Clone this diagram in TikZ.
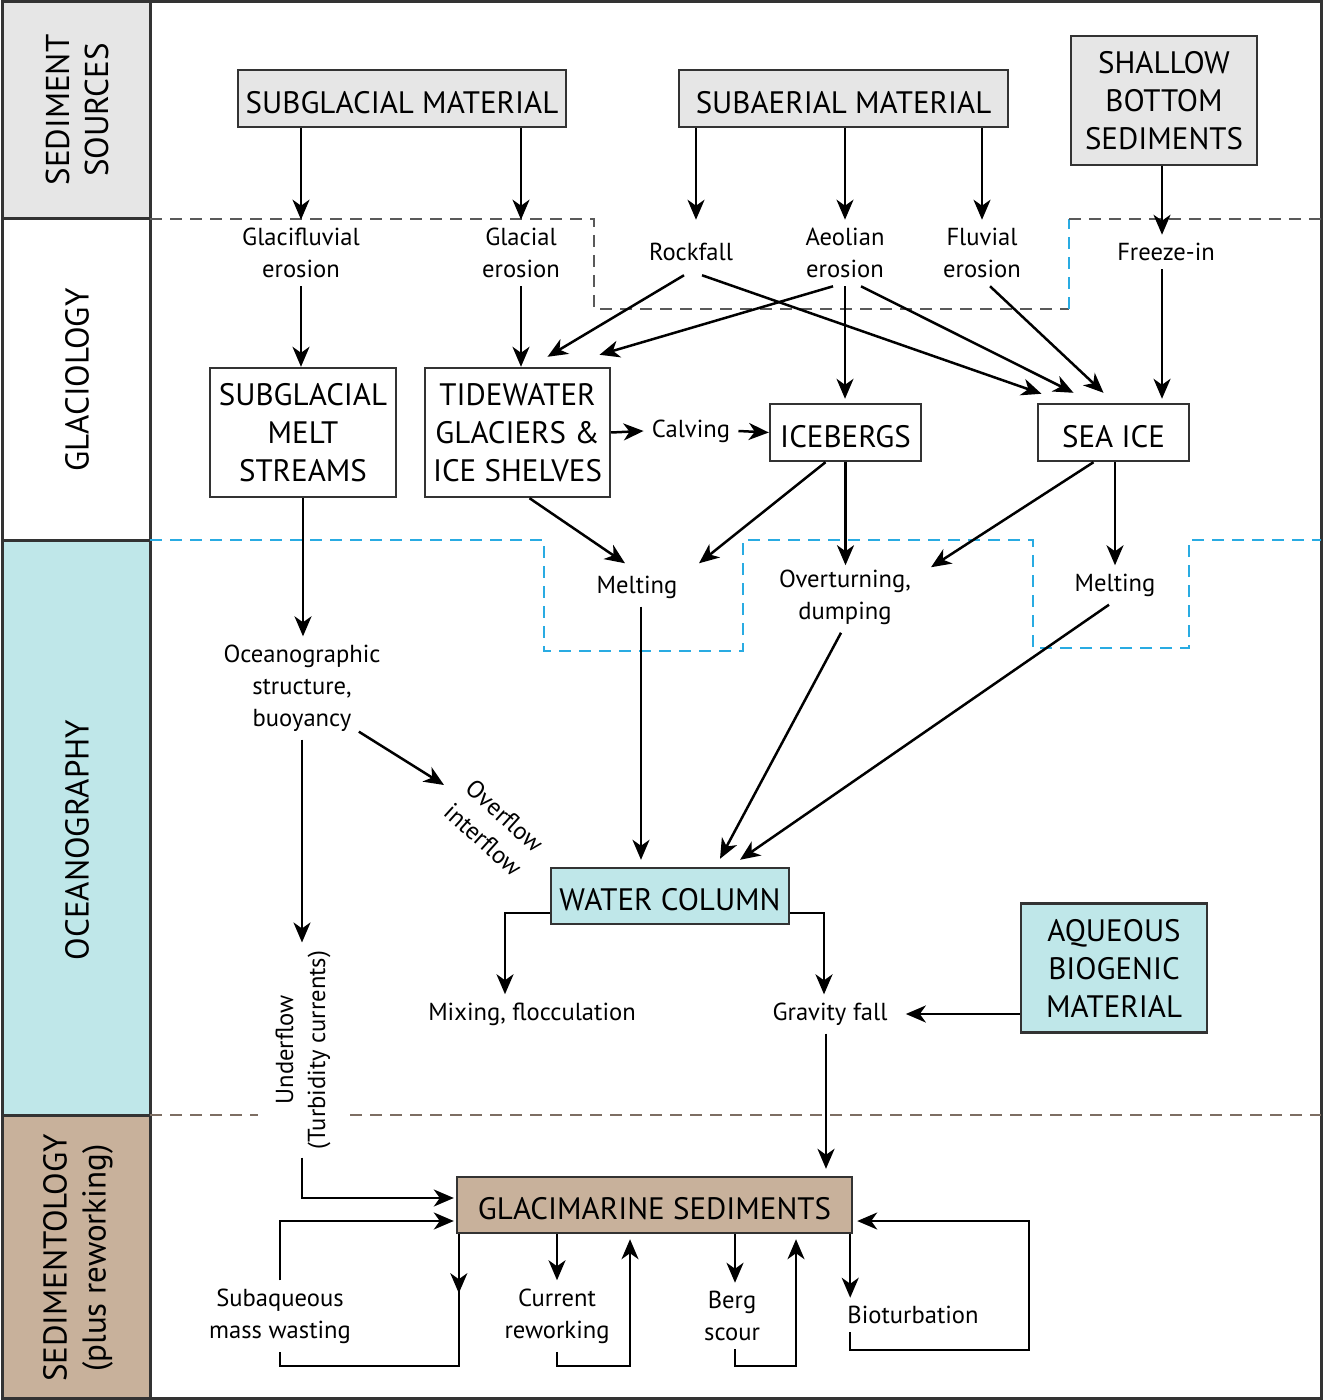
\documentclass[tikz,border=0pt]{standalone}
\usepackage{fontspec}
\setmainfont{PT Sans}
\usetikzlibrary{arrows.meta,calc}
\definecolor{gfill}{HTML}{E6E6E6}
\definecolor{cfill}{HTML}{BFE7E9}
\definecolor{tfill}{HTML}{C8B19B}
\definecolor{frm}{HTML}{333333}
\definecolor{gdash}{HTML}{595959}
\definecolor{bdash}{HTML}{29ABE2}
\definecolor{tdash}{HTML}{7D6E63}
\newcommand\boxf{\fontsize{15.5}{19}\selectfont}
\newcommand\lblf{\fontsize{12.3}{16}\selectfont}
\newcommand\sidef{\fontsize{16.5}{19.5}\selectfont}
\begin{document}
\begin{tikzpicture}[x=0.5pt,y=-0.5pt,
  mybox/.style={draw=frm,line width=1.2pt,inner sep=0pt,align=center,font=\boxf},
  onel/.style={text height=14.8pt,text depth=0pt},
  lbl/.style={inner sep=4pt,align=center,font=\lblf},
  side/.style={rotate=90,align=center,font=\sidef},
  ln/.style={line width=1.25pt,black},
  arr/.style={ln,-{Stealth[length=10pt,width=8.5pt,inset=3pt]}},
  dsh/.style={line width=1.3pt,dash pattern=on 6pt off 4pt}]
\useasboundingbox (0,0) rectangle (1323,1400);
% side bands
\fill[gfill] (2,2) rectangle (150,219);
\fill[cfill] (2,540) rectangle (150,1115);
\fill[tfill] (2,1115) rectangle (150,1398);
\draw[frm,line width=1.5pt] (2,219) -- (150,219) (2,540) -- (150,540) (2,1115) -- (150,1115);
\draw[frm,line width=1.5pt] (150,2) -- (150,1398);
\draw[frm,line width=1.5pt] (2,2) rectangle (1321,1398);
\node[side] (s1) at (77,110) {SEDIMENT\\SOURCES};
\node[side] (s2) at (77,380) {GLACIOLOGY};
\node[side] (s3) at (77,840) {OCEANOGRAPHY};
\node[side] (s4) at (78,1258) {SEDIMENTOLOGY\\(plus reworking)};
% dashed boundaries
\draw[dsh,gdash] (150,219) -- (594,219) -- (594,309) -- (1069,309);
\draw[dsh,bdash] (1069,309) -- (1069,219);
\draw[dsh,gdash] (1069,219) -- (1321,219);
\draw[dsh,bdash] (150,540) -- (544,540) -- (544,651) -- (743,651) -- (743,540) -- (1033,540) -- (1033,648) -- (1189,648) -- (1189,540) -- (1321,540);
\draw[dsh,tdash] (150,1115) -- (1321,1115);
% boxes
\node[mybox,onel,fill=gfill,minimum width=164pt,minimum height=28.5pt] (sgm) at (402,98.5) {SUBGLACIAL MATERIAL};
\node[mybox,onel,fill=gfill,minimum width=164.5pt,minimum height=28.5pt] (sam) at (843.5,98.5) {SUBAERIAL MATERIAL};
\node[mybox,fill=gfill,minimum width=93pt,minimum height=64.5pt] (sbs) at (1164,100.5) {SHALLOW\\BOTTOM\\SEDIMENTS};
\node[mybox,fill=white,minimum width=93pt,minimum height=64.5pt] (sms) at (303,432.5) {SUBGLACIAL\\MELT\\STREAMS};
\node[mybox,fill=white,minimum width=92.5pt,minimum height=64.5pt] (tgi) at (517.5,432.5) {TIDEWATER\\GLACIERS \&\\ICE SHELVES};
\node[mybox,onel,fill=white,minimum width=75.5pt,minimum height=28.5pt] (ice) at (845.5,432.5) {ICEBERGS};
\node[mybox,onel,fill=white,minimum width=75.5pt,minimum height=28.5pt] (sea) at (1113.5,432.5) {SEA ICE};
\node[mybox,onel,fill=cfill,minimum width=119pt,minimum height=28pt] (wc) at (670,896) {WATER COLUMN};
\node[mybox,fill=cfill,minimum width=93pt,minimum height=64.5pt] (abm) at (1114,968) {AQUEOUS\\BIOGENIC\\MATERIAL};
\node[mybox,onel,fill=tfill,minimum width=197.5pt,minimum height=28pt] (gms) at (654.5,1205) {GLACIMARINE SEDIMENTS};
% labels
\node[lbl] (gfe) at (301,253) {Glacifluvial\\erosion};
\node[lbl] (gle) at (521,253) {Glacial\\erosion};
\node[lbl] (rock) at (696,252) {\hspace*{-5pt}Rockfall};
\node[lbl] (aeo) at (845,253) {Aeolian\\erosion};
\node[lbl] (flu) at (982,253) {Fluvial\\erosion};
\node[lbl] (frz) at (1162,252) {\hspace*{4pt}Freeze-in};
\node[lbl] (calv) at (691,431) {Calving};
\node[lbl] (melt1) at (641,587) {\hspace*{-4pt}Melting};
\node[lbl] (ovt) at (845,597) {Overturning,\\dumping};
\node[lbl] (melt2) at (1115,585) {Melting};
\node[lbl] (ocs) at (302,688) {Oceanographic\\structure,\\buoyancy};
\node[lbl,rotate=-42] (ovf) at (494,828) {Overflow\\interflow};
\node[lbl,rotate=90,fill=white,inner xsep=4pt,inner ysep=9pt] (und) at (303,1050) {Underflow\\(Turbidity currents)};
\node[lbl] (mix) at (532,1014) {Mixing, flocculation};
\node[lbl] (grav) at (826,1014) {\hspace*{4pt}Gravity fall};
\node[lbl] (sub) at (280,1316) {Subaqueous\\mass wasting};
\node[lbl] (cur) at (557,1316) {Current\\reworking};
\node[lbl] (berg) at (735,1316) {\hspace*{-3pt}Berg\\\hspace*{-3pt}scour};
\node[lbl] (bio) at (913,1315) {Bioturbation};
\coordinate (bot) at (0,1366);
\coordinate (bbot) at (0,1350);
\coordinate (bx) at ([xshift=-1.5pt]gms.south east);
\coordinate (lx) at ([xshift=1.5pt]gms.south west);
% arrows: sources to processes
\draw[arr] (sgm.south -| gfe.north) -- (gfe.north);
\draw[arr] (sgm.south -| gle.north) -- (gle.north);
\draw[arr] (sam.south -| rock.north) -- ([yshift=7.5pt]rock.north);
\draw[arr] (sam.south -| aeo.north) -- (aeo.north);
\draw[arr] (sam.south -| flu.north) -- (flu.north);
\draw[arr] (sbs.south -| frz.north) -- (frz.north);
% processes to glaciology boxes
\draw[arr] (gfe.south) -- (sms.north -| gfe.south);
\draw[arr] (gle.south) -- (tgi.north -| gle.south);
\draw[arr] ([xshift=-6pt,yshift=-3pt]rock.south) -- ([xshift=15pt,yshift=5pt]tgi.north);
\draw[arr] ([xshift=-6pt]aeo.south) -- ([xshift=41pt,yshift=6pt]tgi.north);
\draw[arr] ([xshift=3pt,yshift=-3pt]rock.south) -- ([xshift=-36pt,yshift=4.5pt]sea.north);
\draw[arr] (aeo.south) -- ([yshift=2pt]ice.north -| aeo.south);
\draw[arr] ([xshift=8pt]aeo.south) -- ([xshift=-20pt,yshift=5pt]sea.north);
\draw[arr] ([xshift=4pt]flu.south) -- ([xshift=-5pt,yshift=5pt]sea.north);
\draw[arr] (frz.south) -- ([yshift=2pt]sea.north -| frz.south);
\draw[arr] (tgi.east) -- (calv.west);
\draw[arr] (calv.east) -- (ice.west);
% glaciology to oceanography
\draw[arr] ([xshift=6pt]tgi.south) -- ([xshift=-8pt,yshift=2pt]melt1.north);
\draw[arr] ([xshift=-10pt]ice.south) -- ([xshift=29pt,yshift=2pt]melt1.north);
\draw[arr] (ice.south) -- ([yshift=-2pt]ovt.north -| ice.south);
\draw[arr] ([xshift=-10pt]sea.south) -- ([xshift=43pt,yshift=-3pt]ovt.north);
\draw[arr] (sea.south -| melt2.north) -- (melt2.north);
\draw[arr] (sms.south) -- (ocs.north -| sms.south);
\draw[arr] (melt1.south) -- ([yshift=3.5pt]wc.north -| melt1.south);
\draw[arr] ([xshift=-2pt]ovt.south) -- ([xshift=25pt,yshift=4pt]wc.north);
\draw[arr] ([xshift=-3pt]melt2.south) -- ([xshift=35pt,yshift=3.5pt]wc.north);
\draw[arr] ([xshift=-15pt,yshift=4pt]ocs.south east) -- ([xshift=-25pt,yshift=21.5pt]ovf.center);
\draw[arr] (ocs.south) -- (ocs.south |- und.east);
\draw[arr] ([yshift=-8.5pt]wc.west) -| ([xshift=-13.5pt]mix.north);
\draw[arr] ([yshift=-8.5pt]wc.east) -| ([xshift=-1pt]grav.north);
\draw[arr] (abm.west |- grav.east) -- ([xshift=5pt]grav.east);
\draw[arr] (grav.south) -- ([yshift=3.5pt]gms.north -| grav.south);
% into sediments
\draw[arr] (ocs.south |- und.west) |- ([xshift=-1pt,yshift=3.5pt]gms.west);
\draw[arr] (sub.north) |- ([xshift=-1pt,yshift=-8pt]gms.west);
% reworking loops
\draw[ln] (lx) -- (lx |- bot) -| (sub.south);
\draw[arr] (lx) -- ([yshift=-29.5pt]lx);
\draw[arr] (gms.south -| cur.north) -- (cur.north);
\draw[arr] (cur.south) -- (cur.south |- bot) -| ([xshift=-12.25pt,yshift=-2.5pt]gms.south);
\draw[arr] (gms.south -| berg.north) -- (berg.north);
\draw[arr] (berg.south) -- (berg.south |- bot) -| ([xshift=70.75pt,yshift=-2.5pt]gms.south);
\draw[arr] (bx) -- (bx |- bio.north);
\draw[arr] (bx |- bio.south) -- (bx |- bbot) -- (1029,1350) -- (1029,1221) -- ([xshift=2pt,yshift=-8pt]gms.east);
\end{tikzpicture}
\end{document}
